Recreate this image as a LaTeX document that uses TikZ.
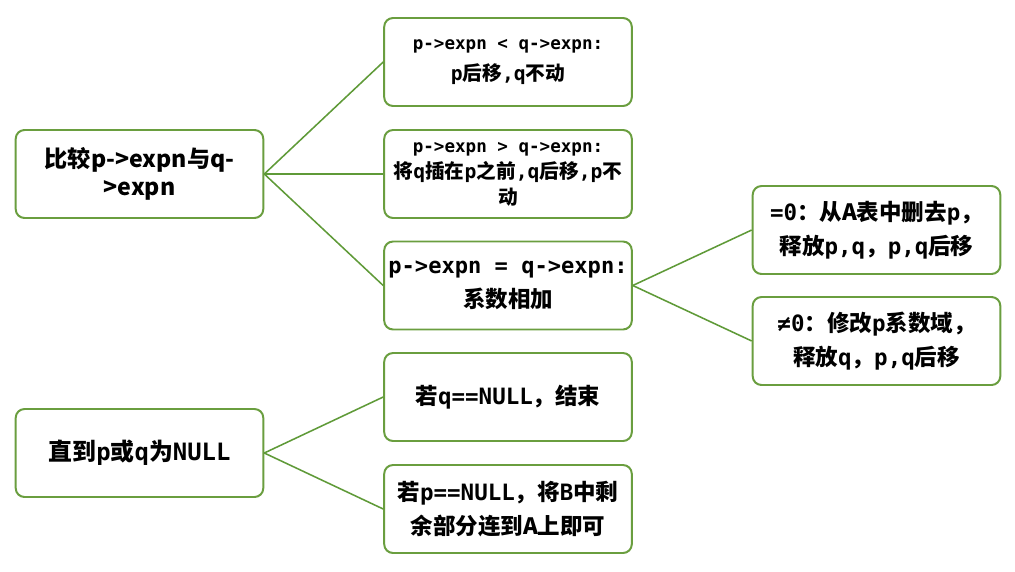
\documentclass[tikz,border=0pt]{standalone}
\usepackage{fontspec}
\usepackage{tikz}
\usepackage{xcolor}
\setmainfont{Noto Sans CJK SC}
\newfontfamily\mono{DejaVu Sans Mono}
\newcommand\mt[1]{{\mono\bfseries #1}}
\newcommand\smallmt[1]{{\mono\bfseries\fontsize{12.5}{20}\selectfont #1}}
\definecolor{boxc}{HTML}{6A9E3F}
\definecolor{linkc}{HTML}{5F9A38}
\tikzset{
  stepbox/.style={draw=boxc, line width=1.4pt, rounded corners=0.22cm, fill=white,
    minimum width=6.19cm, minimum height=2.2cm, inner sep=0pt, align=center,
    font=\bfseries\fontsize{16}{24.5}\selectfont},
  smallbox/.style={stepbox, font=\bfseries\fontsize{14}{22}\selectfont},
  link/.style={draw=linkc, line width=1.1pt},
}

\begin{document}
\begin{tikzpicture}
\useasboundingbox (0,0) rectangle (25.375,14.275);
\node[stepbox, font=\bfseries\fontsize{16.5}{19.5}\selectfont] (cmp) at (3.4875,9.925) {比较p->expn与q-\\>expn};
\node[stepbox, font=\bfseries\fontsize{17}{24}\selectfont] (until) at (3.4875,2.95) {直到\mt{p}或\mt{q}为\mt{NULL}};
\node[smallbox] (less) at (12.7,12.725) {\smallmt{p->expn < q->expn:}\\\mt{p}后移\mt{,q}不动};
\node[smallbox, font=\bfseries\fontsize{14}{18.5}\selectfont] (more) at (12.7,9.925) {\smallmt{p->expn > q->expn:}\\将\mt{q}插在\mt{p}之前\mt{,q}后移\mt{,p}不\\动};
\node[stepbox] (equal) at (12.7,7.1375) {{\mono\bfseries\fontsize{15.7}{24}\selectfont p->expn = q->expn:}\\系数相加};
\node[stepbox] (qnull) at (12.7,4.35) {若\mt{q==NULL}，结束};
\node[stepbox] (pnull) at (12.7,1.55) {若\mt{p==NULL}，将\mt{B}中剩\\余部分连到A上即可};
\node[stepbox] (zero) at (21.9125,8.525) {\mt{=0}：从A表中删去\mt{p}，\\释放\mt{p,q}，\mt{p,q}后移};
\node[stepbox] (nonzero) at (21.9125,5.75) {\mt{≠0}：修改\mt{p}系数域，\\释放\mt{q}，\mt{p,q}后移};
\draw[link] (cmp.east) -- (less.west);
\draw[link] (cmp.east) -- (more.west);
\draw[link] (cmp.east) -- (equal.west);
\draw[link] (equal.east) -- (zero.west);
\draw[link] (equal.east) -- (nonzero.west);
\draw[link] (until.east) -- (qnull.west);
\draw[link] (until.east) -- (pnull.west);
\end{tikzpicture}
\end{document}
